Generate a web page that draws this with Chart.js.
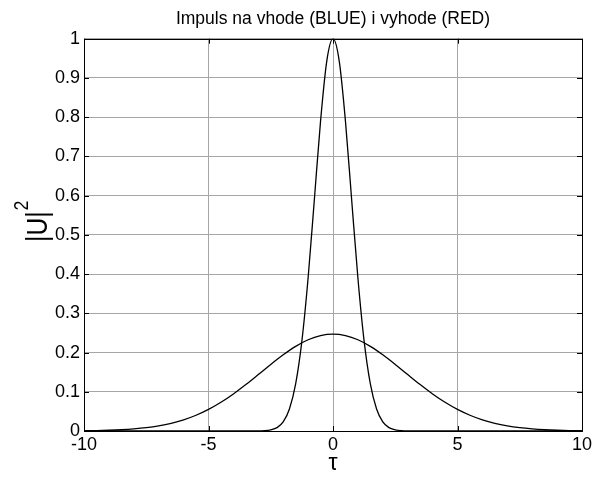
<!DOCTYPE html>
<html>
<head>
<meta charset="utf-8">
<script src="https://cdn.jsdelivr.net/npm/chart.js@4/dist/chart.umd.min.js"></script>
<style>
  html, body { margin: 0; padding: 0; background: #fff; }
  #plot { display: block; }
</style>
</head>
<body>
<canvas id="plot" width="601" height="477"></canvas>
<script>
// output pulse (narrow, peak 1)
var tauNarrow = [-10, -3, -2.75, -2.5, -2.25, -2, -1.75, -1.5, -1.25, -1, -0.75, -0.5, -0.25, 0,
                 0.25, 0.5, 0.75, 1, 1.25, 1.5, 1.75, 2, 2.25, 2.5, 2.75, 3, 10];
var uNarrow   = [0, 0.0002, 0.0008, 0.003, 0.0085, 0.023, 0.056, 0.12, 0.229, 0.39, 0.589, 0.79, 0.943, 1,
                 0.943, 0.79, 0.589, 0.39, 0.229, 0.12, 0.056, 0.023, 0.0085, 0.003, 0.0008, 0.0002, 0];

// input pulse (wide, peak ~0.247)
var tauWide = [-10, -9.5, -9, -8.5, -8, -7.5, -7, -6.5, -6, -5.5, -5, -4.5, -4, -3.5, -3, -2.5, -2, -1.5, -1, -0.5, 0,
               0.5, 1, 1.5, 2, 2.5, 3, 3.5, 4, 4.5, 5, 5.5, 6, 6.5, 7, 7.5, 8, 8.5, 9, 9.5, 10];
var uWide   = [0.0006, 0.0011, 0.0019, 0.0032, 0.0053, 0.0084, 0.013, 0.0195, 0.0284, 0.0401, 0.055, 0.0732, 0.0945, 0.1183, 0.1438, 0.1697, 0.1942, 0.2158, 0.2326, 0.2433, 0.247,
               0.2433, 0.2326, 0.2158, 0.1942, 0.1697, 0.1438, 0.1183, 0.0945, 0.0732, 0.055, 0.0401, 0.0284, 0.0195, 0.013, 0.0084, 0.0053, 0.0032, 0.0019, 0.0011, 0.0006];

var xTicks = [-10, -5, 0, 5, 10];
var yTicks = [0, 0.1, 0.2, 0.3, 0.4, 0.5, 0.6, 0.7, 0.8, 0.9, 1];

function toPoints(xs, ys) {
  var pts = [];
  xs.forEach(function(x, i) { pts.push({ x: x, y: ys[i] }); });
  return pts;
}

var font = 'Arial, "Liberation Sans", sans-serif';

// matlab style box with inward ticks, and the |U|^2 label
var boxPlugin = {
  id: 'boxPlugin',
  afterDraw: function(chart) {
    var ctx = chart.ctx, a = chart.chartArea;
    var xs = chart.scales.x, ys = chart.scales.y;
    var len = 5;
    ctx.save();
    ctx.strokeStyle = '#000';
    ctx.lineWidth = 1;
    ctx.strokeRect(Math.round(a.left) + 0.5, Math.round(a.top) + 0.5,
                   Math.round(a.right - a.left), Math.round(a.bottom - a.top));
    ctx.beginPath();
    xTicks.forEach(function(v) {
      var px = Math.round(xs.getPixelForValue(v)) + 0.5;
      ctx.moveTo(px, a.bottom); ctx.lineTo(px, a.bottom - len);
      ctx.moveTo(px, a.top); ctx.lineTo(px, a.top + len);
    });
    yTicks.forEach(function(v) {
      var py = Math.round(ys.getPixelForValue(v)) + 0.5;
      ctx.moveTo(a.left, py); ctx.lineTo(a.left + len, py);
      ctx.moveTo(a.right, py); ctx.lineTo(a.right - len, py);
    });
    ctx.stroke();

    // y label
    ctx.translate(47, 242);
    ctx.rotate(-Math.PI / 2);
    ctx.scale(0.85, 1);
    ctx.fillStyle = '#000';
    ctx.textAlign = 'left';
    ctx.textBaseline = 'alphabetic';
    ctx.font = '29px ' + font;
    ctx.fillText('|U|', 0, 0);
    var w = ctx.measureText('|U|').width;
    ctx.font = '21px ' + font;
    ctx.fillText('2', w + 1, -19);
    ctx.restore();
  }
};

new Chart(document.getElementById('plot').getContext('2d'), {
  type: 'line',
  data: {
    datasets: [
      { data: toPoints(tauWide, uWide), borderColor: '#000', borderWidth: 1.3,
        pointRadius: 0, cubicInterpolationMode: 'monotone', fill: false },
      { data: toPoints(tauNarrow, uNarrow), borderColor: '#000', borderWidth: 1.3,
        pointRadius: 0, cubicInterpolationMode: 'monotone', fill: false }
    ]
  },
  options: {
    responsive: false,
    animation: false,
    layout: { padding: { left: 0, right: 19, top: 0, bottom: 0 } },
    plugins: {
      legend: { display: false },
      tooltip: { enabled: false },
      title: {
        display: true,
        fullSize: false,
        text: 'Impuls na vhode (BLUE) i vyhode (RED)',
        color: '#000',
        font: { family: font, size: 17.5, weight: 'normal' },
        padding: { top: 9, bottom: 8.7 }
      }
    },
    scales: {
      x: {
        type: 'linear',
        min: -10, max: 10,
        afterBuildTicks: function(s) { s.ticks = xTicks.map(function(v) { return { value: v }; }); },
        afterFit: function(s) { s.height = 46; },
        grid: { color: '#a6a6a6', drawTicks: false },
        border: { display: false },
        ticks: { color: '#000', padding: 3, maxRotation: 0, font: { family: font, size: 18 },
                 callback: function(v) { return String(v); } },
        title: { display: true, text: 'τ', color: '#000', padding: 0,
                 font: { family: font, size: 23 } }
      },
      y: {
        type: 'linear',
        min: 0, max: 1,
        afterBuildTicks: function(s) { s.ticks = yTicks.map(function(v) { return { value: v }; }); },
        afterFit: function(s) { s.width = 84; },
        grid: { color: '#a6a6a6', drawTicks: false },
        border: { display: false },
        ticks: { color: '#000', padding: 4, font: { family: font, size: 18 },
                 callback: function(v) { return String(v); } }
      }
    }
  },
  plugins: [boxPlugin]
});
</script>
</body>
</html>
